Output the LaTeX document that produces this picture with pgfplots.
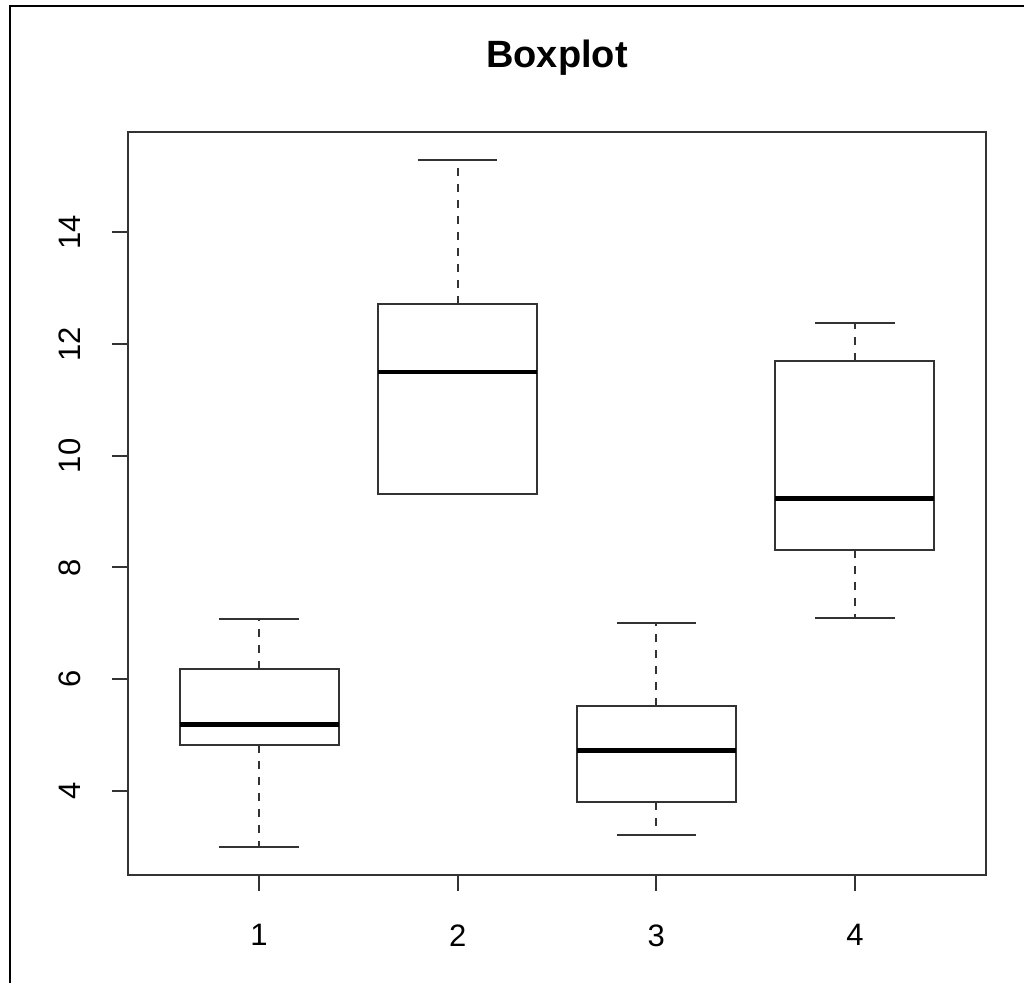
\documentclass[border=0pt]{standalone}
\usepackage{pgfplots}
\pgfplotsset{compat=1.18}
\usepgfplotslibrary{statistics}
\usepackage{fontspec}
\setmainfont{Liberation Sans}
\begin{document}
\begin{tikzpicture}
\useasboundingbox (0,0) rectangle (512pt,-491.5pt);
\draw[black, line width=1.1pt] (5pt,-491.5pt) -- (5pt,-3pt) -- (512pt,-3pt);
\node[anchor=base, font=\bfseries\fontsize{19}{21}\selectfont, inner sep=0pt] at (278.5pt,-33.6pt) {Boxplot};
\begin{axis}[
  scale only axis, width=429pt, height=371.5pt,
  at={(64pt,-437.5pt)}, anchor=south west,
  xmin=0.34, xmax=4.66, ymin=2.49, ymax=15.8,
  xtick={1,2,3,4}, ytick={4,6,8,10,12,14},
  tick align=outside, major tick length=8pt,
  xtick pos=bottom, ytick pos=left,
  axis line style={black!80, line width=1pt},
  every tick/.style={black!80, line width=1pt},
  /pgf/number format/assume math mode=true,
  tick label style={font=\fontsize{15.5}{17}\selectfont, inner sep=0pt},
  xticklabel style={anchor=north},
  yticklabel style={rotate=90, anchor=south},
  xticklabel shift=16.5pt,
  yticklabel shift=15.5pt,
  boxplot/draw direction=y,
  boxplot/box extend=0.8,
  boxplot/whisker extend=0.4,
  boxplot/every box/.style={draw=black!80, line width=1pt},
  boxplot/every median/.style={draw=black, line width=2.4pt},
  boxplot/draw/lower whisker/.code={%
    \draw[black!80, line width=1pt, dash pattern=on 4pt off 4pt]
      (boxplot cs:\pgfplotsboxplotvalue{lower quartile}) -- (boxplot cs:\pgfplotsboxplotvalue{lower whisker});
    \draw[black!80, line width=1pt]
      (boxplot whisker cs:\pgfplotsboxplotvalue{lower whisker},0) -- (boxplot whisker cs:\pgfplotsboxplotvalue{lower whisker},1);
  },
  boxplot/draw/upper whisker/.code={%
    \draw[black!80, line width=1pt, dash pattern=on 4pt off 4pt]
      (boxplot cs:\pgfplotsboxplotvalue{upper quartile}) -- (boxplot cs:\pgfplotsboxplotvalue{upper whisker});
    \draw[black!80, line width=1pt]
      (boxplot whisker cs:\pgfplotsboxplotvalue{upper whisker},0) -- (boxplot whisker cs:\pgfplotsboxplotvalue{upper whisker},1);
  },
]
\addplot[black!80, boxplot prepared={draw position=1, lower whisker=3.00, lower quartile=4.81, median=5.18, upper quartile=6.18, upper whisker=7.08}] coordinates {};
\addplot[black!80, boxplot prepared={draw position=2, lower whisker=9.31, lower quartile=9.31, median=11.50, upper quartile=12.71, upper whisker=15.29}] coordinates {};
\addplot[black!80, boxplot prepared={draw position=3, lower whisker=3.21, lower quartile=3.79, median=4.72, upper quartile=5.51, upper whisker=7.01}] coordinates {};
\addplot[black!80, boxplot prepared={draw position=4, lower whisker=7.09, lower quartile=8.31, median=9.23, upper quartile=11.70, upper whisker=12.38}] coordinates {};
\end{axis}
\end{tikzpicture}
\end{document}
